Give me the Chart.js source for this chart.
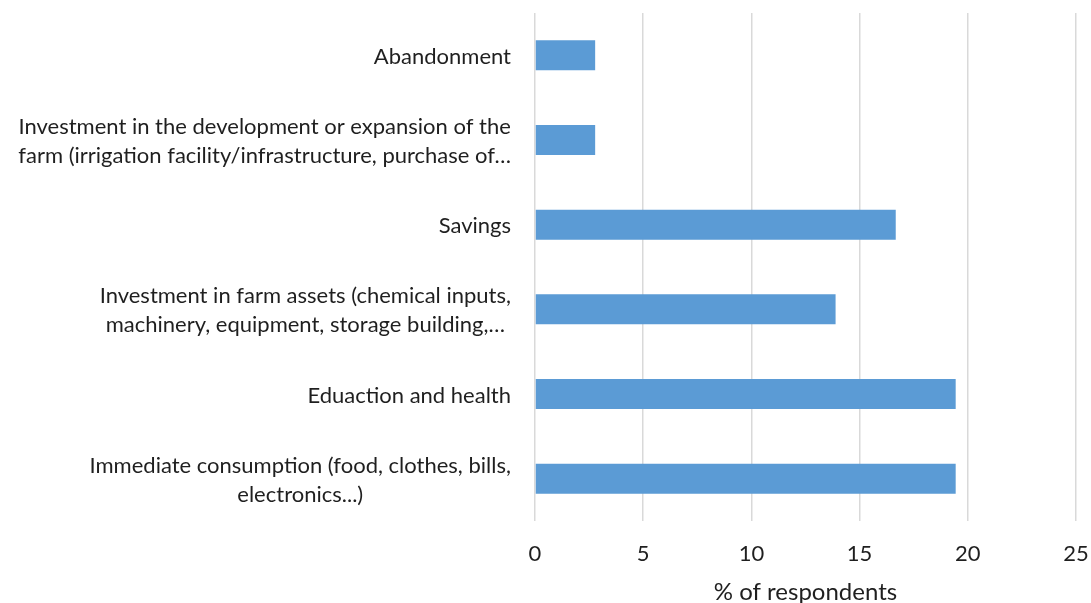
<!DOCTYPE html>
<html>
<head>
<meta charset="utf-8">
<script src="https://cdn.jsdelivr.net/npm/chart.js@4/dist/chart.umd.min.js"></script>
<style>
  html, body { margin: 0; padding: 0; background: #fff; }
  #wrap { width: 1091px; height: 603px; }
</style>
</head>
<body>
<div id="wrap"><canvas id="uses" width="1091" height="603"></canvas></div>
<script>
const categories = [
  ['Abandonment'],
  ['Investment in the development or expansion of the', 'farm (irrigation facility/infrastructure, purchase of…'],
  ['Savings'],
  ['Investment in farm assets (chemical inputs,', 'machinery, equipment, storage building,…'],
  ['Eduaction and health'],
  ['Immediate consumption (food, clothes, bills,', 'electronics...)']
];
const respondents = [2.78, 2.78, 16.67, 13.89, 19.44, 19.44];
const xTicks = [0, 5, 10, 15, 20, 25];

const fontFamily = 'Lato, "Open Sans", sans-serif';
const font = { family: fontFamily, size: 22 };
const textColor = '#1f1f1f';
const lineGap = 29;

// Excel-style category labels: block right-aligned to the axis, lines centred inside the block
const centredLabels = {
  id: 'centredLabels',
  afterDraw(chart) {
    const y = chart.scales.y;
    const ctx = chart.ctx;
    ctx.save();
    ctx.font = `${font.size}px ${fontFamily}`;
    ctx.fillStyle = textColor;
    ctx.textAlign = 'center';
    ctx.textBaseline = 'middle';
    const rightEdge = chart.chartArea.left - 24;
    y.ticks.forEach((t, i) => {
      const lines = chart.data.labels[i];
      const w = Math.max(...lines.map(s => ctx.measureText(s).width));
      const cx = rightEdge - w / 2;
      const cy = y.getPixelForTick(i) + 1.5;
      lines.forEach((s, k) => {
        ctx.fillText(s, cx, cy + (k - (lines.length - 1) / 2) * lineGap);
      });
    });
    ctx.restore();
  }
};

new Chart(document.getElementById('uses').getContext('2d'), {
  type: 'bar',
  data: {
    labels: categories,
    datasets: [{
      label: '% of respondents',
      data: respondents,
      backgroundColor: '#5b9bd5',
      barPercentage: 0.355,
      categoryPercentage: 1
    }]
  },
  options: {
    indexAxis: 'y',
    responsive: false,
    animation: false,
    layout: { padding: { top: 13, right: 15, bottom: 0, left: 0 } },
    plugins: { legend: { display: false }, tooltip: { enabled: false } },
    scales: {
      x: {
        min: 0,
        max: 25,
        afterBuildTicks: (scale) => { scale.ticks = xTicks.map(v => ({ value: v })); },
        grid: { color: '#d9d9d9', lineWidth: 1.5, drawTicks: false },
        border: { display: false },
        ticks: { color: textColor, font: font, padding: 20 },
        title: { display: true, text: '% of respondents', color: textColor, font: { family: fontFamily, size: 24 }, padding: { top: 9, bottom: -3.5 } },
        afterFit: (scale) => { scale.height = 82; scale.paddingLeft = 0; scale.paddingRight = 0; }
      },
      y: {
        grid: { display: false, drawTicks: false },
        border: { display: false },
        ticks: { display: false, autoSkip: false },
        afterFit: (scale) => { scale.width = 535; scale.paddingTop = 0; scale.paddingBottom = 0; }
      }
    }
  },
  plugins: [centredLabels]
});
</script>
</body>
</html>
